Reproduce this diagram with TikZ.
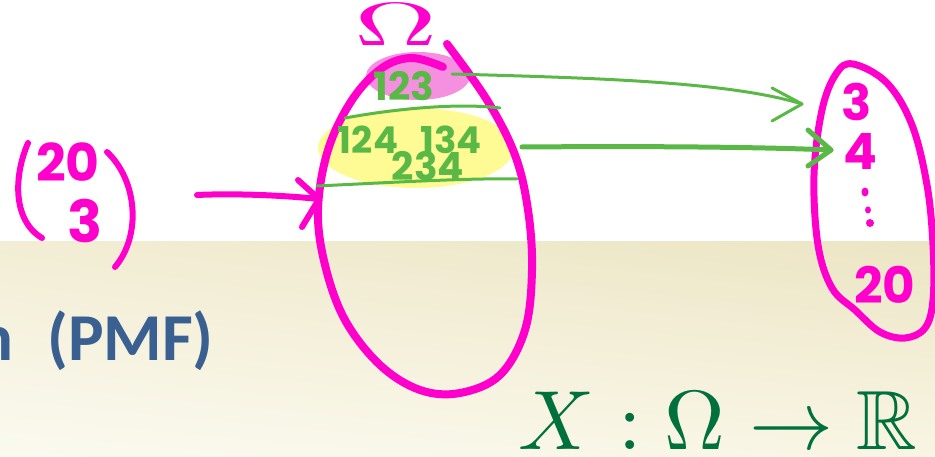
\documentclass[tikz,border=0pt]{standalone}
\usepackage{fontspec}
\usepackage{amssymb}
\usetikzlibrary{shadings}
\newfontfamily\handfont{Poppins}
\newfontfamily\slidefont{Carlito}
\definecolor{mag}{HTML}{FF00CC}
\definecolor{grn}{HTML}{5AB946}
\definecolor{dgrn}{HTML}{00703C}
\definecolor{pinkhl}{HTML}{F590E0}
\definecolor{yelhl}{HTML}{FFFB94}
\definecolor{slideblue}{HTML}{3A6091}
\definecolor{bgul}{RGB}{242,237,212}
\definecolor{bgur}{RGB}{236,229,196}
\definecolor{bgll}{RGB}{251,250,240}
\definecolor{bglr}{RGB}{248,245,228}
\begin{document}
\begin{tikzpicture}[x=1pt,y=-1pt,line cap=round,line join=round,
  magthick/.style={draw=mag,line width=8pt},
  magmid/.style={draw=mag,line width=6pt},
  grnthin/.style={draw=grn,line width=3pt},
  grnthick/.style={draw=grn,line width=5pt},
  magtext/.style={text=mag,inner sep=0pt,font=\handfont\bfseries\fontsize{52}{52}\selectfont},
  grntext/.style={text=grn,inner sep=0pt,font=\handfont\bfseries\fontsize{39}{39}\selectfont}]
\useasboundingbox (0,0) rectangle (935,457);
\clip (0,0) rectangle (935,457);
% background
\shade[upper left=bgul,upper right=bgur,lower left=bgll,lower right=bglr]
  (0,241) rectangle (935,457);
\fill[white] (0,0) rectangle (935,241);
% slide title fragment
\node[anchor=base east,inner sep=0pt,text=slideblue,font=\slidefont\bfseries\fontsize{67}{67}\selectfont] (title) at (214,360) {n\hspace{0.28em} (PMF)};
% highlights
\fill[pinkhl] (418,76) ellipse [x radius=52, y radius=24];
\fill[yelhl] (416,148) ellipse [x radius=98, y radius=40];
% binomial
\draw[magmid] (28,143) .. controls (14,175) and (12,220) .. (42,238);
\draw[magmid] (107,152) .. controls (137,180) and (142,235) .. (115,267);
\node[magtext] (n20) at (68,162) {20};
\node[magtext,font=\handfont\bfseries\fontsize{58}{58}\selectfont] (n3) at (85,221) {3};
% Omega label
\node[text=mag,inner sep=0pt,xscale=11.5,yscale=6.1] (om) at (396,25) {$\Omega$};
% sample space
\draw[magthick] plot[smooth,tension=0.6] coordinates {(447,44) (487,100) (515,155) (528,210) (532,270) (525,330) (500,375) (460,393) (420,390) (380,365) (345,320) (325,265) (318,210) (328,150) (352,100) (382,68) (412,58) (443,67)};
% arrow from binomial
\coordinate (bs) at (197,195);
\coordinate (be) at (319,199);
\draw[magmid] (bs) .. controls (240,193) and (290,196) .. (be);
\draw[magmid] (298,180) -- (be) -- (302,227);
% range blob
\draw[magthick,line width=7pt] plot[smooth cycle,tension=0.6] coordinates {(853,64) (887,83) (912,125) (927,185) (933,245) (933,300) (925,328) (905,338) (880,332) (855,310) (832,288) (818,245) (814,175) (822,110) (836,74)};
\node[magtext,font=\handfont\bfseries\fontsize{50}{50}\selectfont] (r3) at (857,102) {3};
\node[magtext,font=\handfont\bfseries\fontsize{50}{50}\selectfont] (r4) at (860,152) {4};
\fill[mag] (865,192) ellipse [x radius=3.5, y radius=4.5];
\fill[mag] (868,210) ellipse [x radius=3, y radius=3.5];
\fill[mag] (870,223) circle [radius=4];
\node[magtext,font=\handfont\bfseries\fontsize{50}{50}\selectfont] (r20) at (885,285) {20};
% outcomes
\node[grntext] (o123) at (404,86) {123};
\node[grntext,font=\handfont\bfseries\fontsize{37}{37}\selectfont] (o124) at (410,140) {124\hspace{0.4em} 134};
\node[grntext] (o234) at (428,166) {234};
\draw[grnthin] (345,118) .. controls (400,108) and (460,103) .. (500,108);
\draw[grnthin] (317,186) .. controls (400,182) and (470,178) .. (517,179);
% mapping arrows
\coordinate (a1s) at (452,74);
\coordinate (a1e) at (802,104);
\draw[grnthin] (a1s) .. controls (600,78) and (730,82) .. (a1e);
\draw[grnthin] (772,88) -- (a1e) -- (772,121);
\coordinate (a2s) at (522,147);
\coordinate (a2e) at (831,150);
\draw[grnthick] (a2s) .. controls (650,146) and (760,147) .. (a2e);
\draw[grnthick] (808,130) -- (a2e) -- (808,166);
% random variable definition
\node[anchor=base,inner sep=0pt,text=dgrn,scale=8.4] (rv) at (718,449) {$X:\Omega\to\mathbb{R}$};
\end{tikzpicture}
\end{document}
